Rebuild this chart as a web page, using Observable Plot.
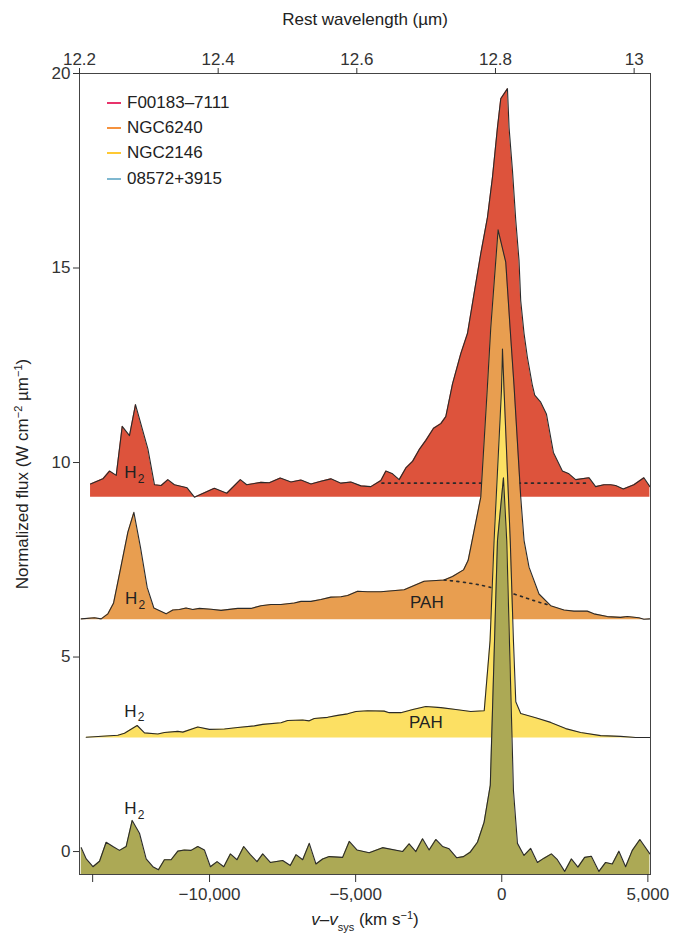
<!DOCTYPE html>
<html><head><meta charset="utf-8">
<script src="https://cdn.jsdelivr.net/npm/d3@7"></script>
<script src="https://cdn.jsdelivr.net/npm/@observablehq/plot@0.6"></script>
<style>
body{margin:0;background:#fff;font-family:"Liberation Sans",Arial,sans-serif;}
#wrap{position:relative;width:673px;height:935px;overflow:hidden;}
#legend{position:absolute;left:107px;top:90px;font-size:17px;color:#222;}
.item{display:flex;align-items:center;height:25.3px;}
.sw{width:14px;height:2px;margin-right:6px;}
</style></head><body><div id="wrap"><div id="chart"></div><div id="legend"></div></div>
<script>
// ---------- data ----------
const seriesNames = ["F00183\u20137111", "NGC6240", "NGC2146", "08572+3915"];
const legendColors = ["#e8336b", "#f5923e", "#ffc933", "#7fb8d0"];
const fillColors = ["#dd533c", "#e89e50", "#fce063", "#aca955"];

const redVel = [-14072,-13648,-13423,-13193,-12988,-12739,-12534,-12110,-11885,-11655,-11426,-11201,-10767,-10517,-9834,-9410,-8945,-8726,-8237,-7954,-7578,
  -7212,-6870,-6528,-6187,-5845,-5503,-5161,-4819,-4478,
  -4136,-3965,-3736,-3510,-3281,-3052,-2827,-2598,-2334,-2085,-1914,-1685,-1401,-1172,-947,-718,-489,-318,-147,-34,195,
  250,366,479,591,649,762,878,1049,1128,1333,1528,1767,2075,2300,2529,2984,3213,3497,3726,3897,4160,4522,4864,5069];
const redFlux = [9.45,9.58,9.78,9.67,10.93,10.69,11.49,10.35,9.43,9.41,9.56,9.43,9.35,9.11,9.34,9.21,9.56,9.43,9.49,9.48,9.60,
  9.50,9.55,9.45,9.52,9.58,9.47,9.50,9.40,9.38,
  9.54,9.78,9.71,9.56,9.86,10.03,10.33,10.57,10.88,11.00,11.18,12.02,12.80,13.32,14.34,15.37,16.30,17.33,18.61,19.35,19.61,
  18.61,17.51,16.23,15.19,14.16,13.32,12.70,11.98,11.73,11.55,11.25,10.26,9.78,9.71,9.56,9.61,9.38,9.43,9.43,9.41,9.32,9.43,9.61,9.38];
const redBase = 9.11;
const redContVel = [-4100, 3000];
const redContFlux = [9.47, 9.47];

const orangeVel = [-14390,-13935,-13707,-13477,-13286,-13081,-12794,-12589,-12363,-12134,-11905,-11485,-11256,-11030,-10801,-10572,-10346,-9946,-9605,-9034,-8579,-8237,-7896,-7554,-7099,-6870,-6528,-6187,-5845,-5503,-5274,-4932,-4590,-4136,-3339,-2656,-1972,-1685,-1309,-1152,-1060,-718,-489,-376,-205,-126,
  137,284,420,649,762,933,1275,1675,2129,2471,2929,3155,3613,4067,4296,4693,4864,5069];
const orangeFlux = [5.98,6.01,5.98,6.11,6.38,7.14,8.21,8.72,7.82,6.79,6.26,6.11,6.21,6.22,6.26,6.22,6.25,6.23,6.20,6.25,6.25,6.32,6.35,6.35,6.39,6.43,6.43,6.48,6.54,6.55,6.58,6.69,6.68,6.68,6.73,6.95,6.98,7.07,7.24,7.48,7.82,9.11,11.98,13.47,15.19,15.98,
  15.15,13.47,11.98,9.11,8.00,7.31,6.62,6.32,6.21,6.18,6.18,6.11,6.04,6.02,6.04,6.01,5.97,5.98];
const orangeBase = 5.96;
const orangeContVel = [-1972,-1289,-489,420,1104,1562];
const orangeContFlux = [6.98,6.92,6.81,6.62,6.45,6.35];

const yellowVel = [-14219,-13136,-12910,-12476,-12226,-11768,-11543,-11085,-10914,-10401,-10005,-9492,-9034,-8466,-8179,-7554,-7325,-6812,-6587,-6416,-5958,-5616,-5274,-4990,-4590,-4023,-3852,-3452,
  -3042,-2598,-2085,-1572,-1060,-600,-400,-263,-10,24,79,290,400,480,649,1162,1675,2188,2700,3384,4067,4580,5069];
const yellowFlux = [2.94,2.99,3.04,3.24,3.05,3.02,3.06,3.09,3.07,3.20,3.14,3.15,3.19,3.23,3.27,3.31,3.37,3.38,3.36,3.42,3.45,3.50,3.54,3.60,3.62,3.61,3.57,3.57,
  3.65,3.73,3.70,3.65,3.60,3.62,5.42,7.99,11.85,12.92,11.85,8.00,5.42,3.85,3.55,3.44,3.32,3.16,3.06,2.98,2.96,2.93,2.93];
const yellowBase = 2.92;

const oliveVel = [-14390,-14219,-13990,-13764,-13537,-13306,-13081,-12852,-12647,-12397,-12168,-11939,-11748,-11543,-11314,-11085,-10859,-10630,-10401,-10175,-9970,-9741,-9512,-9287,-9058,-8829,-8603,-8374,-8179,-7920,-7496,-7236,-7041,-6812,-6587,-6358,-6129,-5903,-5445,-5219,-4956,-4536,-4078,-3394,-3169,-2939,-2710,-2485,-2256,-2027,-1801,-1538,-1309,-1084,-831,-605,-393,-147,58,
  171,400,537,762,991,1220,1446,1699,1904,2153,2382,2608,2837,3066,3326,3555,3784,4009,4238,4467,4727,5069];
const oliveFlux = [0.10,-0.19,-0.39,-0.25,0.24,0.13,0.03,0.13,0.80,0.47,-0.19,-0.39,-0.47,-0.21,-0.21,0.01,0.04,0.03,0.13,0.04,-0.39,-0.26,-0.39,-0.06,-0.21,0.13,-0.08,-0.26,-0.06,-0.28,-0.23,-0.36,-0.08,-0.21,0.21,-0.32,-0.19,-0.13,-0.15,0.26,0.04,-0.03,0.10,0.00,0.20,0.00,0.33,0.04,0.31,0.13,0.07,-0.16,-0.13,-0.02,0.24,0.75,1.70,7.99,9.61,
  7.99,1.57,0.21,-0.10,0.08,-0.28,-0.17,-0.06,-0.21,-0.51,-0.19,-0.40,-0.15,-0.12,-0.51,-0.28,-0.32,0.01,-0.39,0.03,0.31,-0.06];

const yMin = -0.59, yMax = 20;
const oliveBase = yMin;

const fluxTicks = [0, 5, 10, 15, 20];
const velTicks = [-14000, -10000, -5000, 0, 5000];
const velTickLabels = ["", "\u221210,000", "\u22125,000", "0", "5,000"];
const waveTicks = [12.2, 12.4, 12.6, 12.8, 13];
const waveTickLabels = ["12.2", "12.4", "12.6", "12.8", "13"];

const h2LabelVel = [-12705, -12680, -12705, -12705];
const h2LabelFlux = [9.75, 6.50, 3.61, 1.10];
const pahLabelVel = [-2564, -2598];
const pahLabelFlux = [6.41, 3.32];

// ---------- scales helpers ----------
const waveToVel = d3.scaleLinear().domain([12.2, 13]).range([-14450, 4530]);
const waveTickVel = waveTicks.map(waveToVel);
const waveLabelMap = new Map(waveTickVel.map((v, i) => [v, waveTickLabels[i]]));
const velLabelMap = new Map(velTicks.map((v, i) => [v, velTickLabels[i]]));

const series = [
  {vel: redVel, flux: redFlux, base: redBase, fill: fillColors[0]},
  {vel: orangeVel, flux: orangeFlux, base: orangeBase, fill: fillColors[1]},
  {vel: yellowVel, flux: yellowFlux, base: yellowBase, fill: fillColors[2]},
  {vel: oliveVel, flux: oliveFlux, base: oliveBase, fill: fillColors[3]}
];

const outline = "#2a2a2a";
const marks = [];
series.forEach((s, k) => {
  const idx = d3.range(s.vel.length);
  marks.push(Plot.areaY(idx, {x: i => s.vel[i], y1: () => s.base, y2: i => s.flux[i], fill: s.fill, fillOpacity: 1}));
  marks.push(Plot.line(idx, {x: i => s.vel[i], y: i => s.flux[i], stroke: outline, strokeWidth: 1.1}));
  if (k === 0) {
    marks.push(Plot.line(d3.range(redContVel.length), {x: i => redContVel[i], y: i => redContFlux[i], stroke: outline, strokeWidth: 1.6, strokeDasharray: "2,4.5"}));
  }
  if (k === 1) {
    marks.push(Plot.line(d3.range(orangeContVel.length), {x: i => orangeContVel[i], y: i => orangeContFlux[i], stroke: outline, strokeWidth: 1.6, strokeDasharray: "2,4.5", curve: "natural"}));
  }
});

const h2idx = d3.range(h2LabelVel.length);
marks.push(Plot.text(h2idx, {x: i => h2LabelVel[i], y: i => h2LabelFlux[i], text: () => "H", fontSize: 17, fill: "#222"}));
marks.push(Plot.text(h2idx, {x: i => h2LabelVel[i], y: i => h2LabelFlux[i], text: () => "2", fontSize: 12, dx: 10.5, dy: 6.5, fill: "#222"}));
marks.push(Plot.text(d3.range(pahLabelVel.length), {x: i => pahLabelVel[i], y: i => pahLabelFlux[i], text: () => "PAH", fontSize: 17, fill: "#222"}));

marks.push(Plot.frame({stroke: "#444", strokeWidth: 1}));
marks.push(Plot.axisY({ticks: fluxTicks, tickSize: 6, tickPadding: 3, label: null, fontSize: 17}));
marks.push(Plot.axisX({anchor: "bottom", ticks: velTicks, tickFormat: d => velLabelMap.get(d), tickSize: 8, tickPadding: 5, label: null, fontSize: 17}));
marks.push(Plot.axisX({anchor: "top", ticks: waveTickVel, tickFormat: d => waveLabelMap.get(d), tickSize: 6, tickPadding: 3, label: null, fontSize: 17}));

marks.push(Plot.text(["YTITLE"], {frameAnchor: "left", rotate: -90, dx: -57, textAnchor: "middle", fontSize: 17, fill: "#222"}));
marks.push(Plot.text(["XTITLE"], {frameAnchor: "bottom", dy: 50, fontSize: 17, fill: "#222"}));
marks.push(Plot.text(["Rest wavelength (\u00b5m)"], {frameAnchor: "top", dy: -61, fontSize: 17, fill: "#222"}));

const chart = Plot.plot({
  width: 673, height: 935,
  marginLeft: 79, marginRight: 23, marginTop: 73, marginBottom: 61,
  style: {fontFamily: '"Liberation Sans", Arial, sans-serif', fontSize: "17px", color: "#333", background: "#fff"},
  x: {domain: [-14450, 5090]},
  y: {domain: [yMin, yMax]},
  marks
});
document.getElementById("chart").appendChild(chart);

// rich text for axis titles
const svg = d3.select(chart);
svg.selectAll("text").each(function() {
  const t = d3.select(this);
  if (this.textContent === "YTITLE") {
    t.text(null);
    t.append("tspan").text("Normalized flux (W cm");
    t.append("tspan").attr("baseline-shift", "super").attr("font-size", 11).text("\u22122");
    t.append("tspan").text(" \u00b5m");
    t.append("tspan").attr("baseline-shift", "super").attr("font-size", 11).text("\u22121");
    t.append("tspan").text(")");
  } else if (this.textContent === "XTITLE") {
    t.text(null);
    t.append("tspan").attr("font-style", "italic").text("v");
    t.append("tspan").text("\u2013");
    t.append("tspan").attr("font-style", "italic").text("v");
    t.append("tspan").attr("baseline-shift", "sub").attr("font-size", 11).text("sys");
    t.append("tspan").text(" (km s");
    t.append("tspan").attr("baseline-shift", "super").attr("font-size", 11).text("\u22121");
    t.append("tspan").text(")");
  }
});

// legend
const legend = d3.select("#legend");
seriesNames.forEach((n, i) => {
  const it = legend.append("div").attr("class", "item");
  it.append("div").attr("class", "sw").style("background", legendColors[i]);
  it.append("span").text(n);
});
</script></body></html>
